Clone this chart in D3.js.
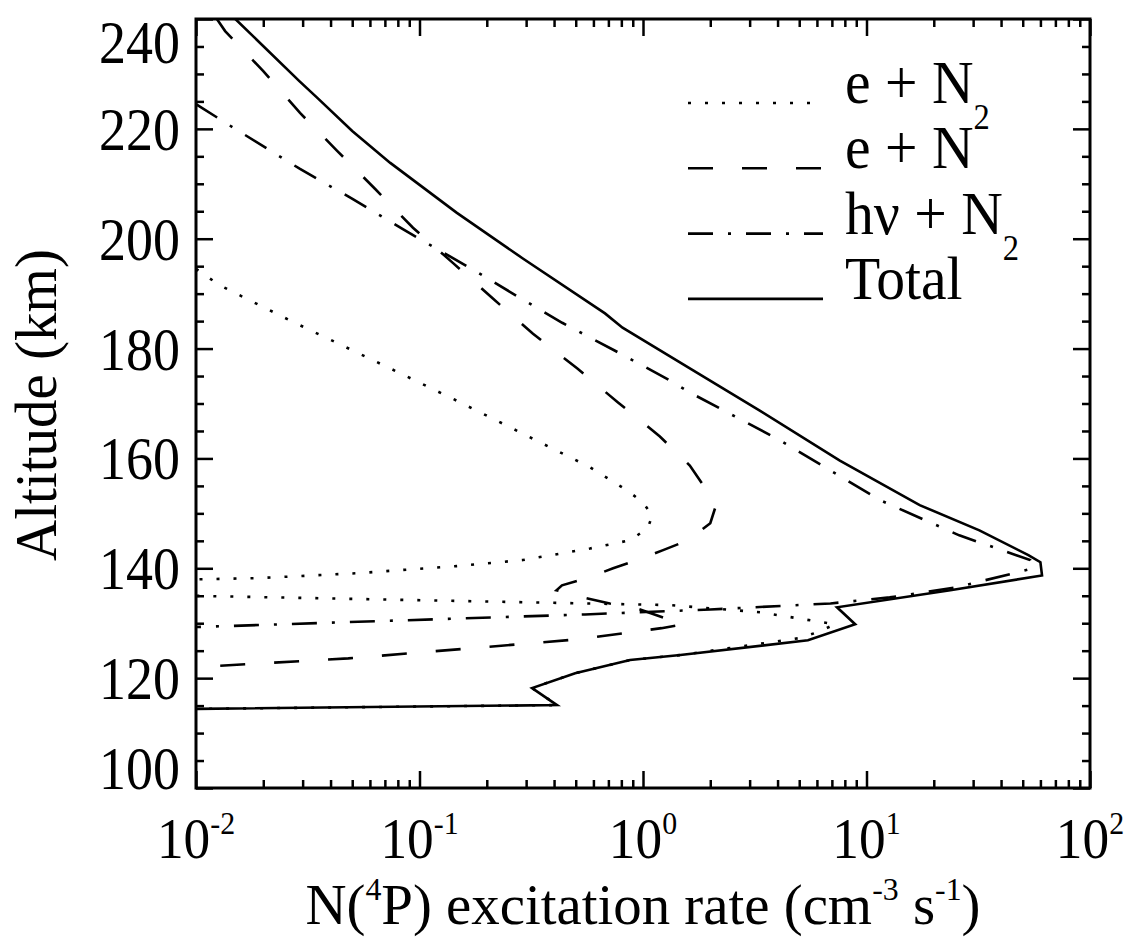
<!DOCTYPE html>
<html>
<head>
<meta charset="utf-8">
<script src="https://cdn.jsdelivr.net/npm/d3@7"></script>
<style>
  body { margin: 0; background: #fff; }
  text { font-family: "Liberation Serif", "Times New Roman", serif; fill: #000; }
</style>
</head>
<body>
<div id="chart"></div>
<script>
// altitude (km) and N(4P) excitation rate (cm-3 s-1)
var totalAlt = [240, 228.7, 225.6, 219.6, 213.8, 204.7, 196.4, 186.4, 183.8, 176.4, 168.7, 159.6, 151.5, 146.9, 142.4, 141.1, 138.7, 136, 132.9, 129.8, 126.9, 124.2, 123.3, 120.9, 118.2, 115.1, 114.4];
var totalVal = [0.015, 0.029, 0.035, 0.050, 0.074, 0.147, 0.29, 0.676, 0.81, 1.62, 3.33, 7.6, 17.3, 32, 53, 60, 61, 23.7, 7.38, 8.9, 5.47, 1.47, 0.875, 0.497, 0.319, 0.412, 0.0101];

var eN2Alt = [194.5, 191.5, 185.1, 176.4, 170.5, 164.5, 158.4, 154.2, 152, 149.6, 147.3, 145.1, 143.6, 141.5, 140.4, 139.1, 138.2, 138, 136.5, 135.0, 133.3, 132, 129.8, 128.4, 127.3, 124.2, 123.3, 120.9, 118.2, 115.1, 114.4];
var eN2Val = [0.01, 0.0128, 0.0264, 0.0738, 0.147, 0.29, 0.579, 0.847, 1.0, 1.10, 1.05, 0.875, 0.579, 0.290, 0.147, 0.0525, 0.0188, 0.0104, 0.0001, 0.0095, 1.32, 3.34, 7.23, 6.07, 5.04, 1.47, 0.875, 0.497, 0.319, 0.412, 0.0101];

var eNAlt = [240, 237.8, 230.5, 222.9, 216, 209.1, 202, 195.6, 189.1, 182.7, 176.4, 170.2, 164, 158.7, 152.7, 150.9, 148.2, 145.1, 143.3, 141.5, 140, 138.2, 136.9, 136, 134.7, 133.6, 132.7, 129.8, 129.1, 127.1, 125.4, 123.6, 122];
var eNVal = [0.0124, 0.0135, 0.020, 0.0292, 0.0428, 0.0632, 0.0935, 0.141, 0.213, 0.322, 0.507, 0.773, 1.19, 1.62, 2.04, 2.10, 2.0, 1.59, 1.23, 0.94, 0.735, 0.561, 0.434, 0.41, 0.54, 0.71, 0.94, 1.51, 1.21, 0.52, 0.165, 0.048, 0.01];

var hvN2Alt = [224.5, 220.2, 212.7, 207.3, 201.5, 194.4, 188.7, 184.7, 179.6, 174.2, 172, 163.3, 152.4, 146, 141.5, 140, 136.5, 134.7, 133.6, 132.5, 131.6, 129.3];
var hvN2Val = [0.01, 0.0147, 0.0292, 0.0499, 0.0861, 0.173, 0.296, 0.435, 0.75, 1.32, 1.62, 4.1, 11.5, 26, 54, 56, 25, 12.7, 6.9, 2.0, 0.55, 0.01];

var xMajor = [0.01, 0.1, 1, 10, 100];
var xExp = ["-2", "-1", "0", "1", "2"];
var yMajor = [100, 120, 140, 160, 180, 200, 220, 240];

var series = [
  {name: "e + N", sub: "2", alt: eN2Alt, val: eN2Val, dash: "3,14"},
  {name: "e + N", sub: "", alt: eNAlt, val: eNVal, dash: "25,29"},
  {name: "h\u03bd + N", sub: "2", alt: hvN2Alt, val: hvN2Val, dash: "25,15,3,15"},
  {name: "Total", sub: "", alt: totalAlt, val: totalVal, dash: null}
];

var W = 1141, H = 938;
var pLeft = 196, pRight = 1090, pTop = 19, pBottom = 788;

var svg = d3.select("#chart").append("svg")
  .attr("width", W).attr("height", H);

var x = d3.scaleLog().domain([0.01, 100]).range([pLeft, pRight]);
var y = d3.scaleLinear().domain([100, 240]).range([pBottom, pTop]);

svg.append("clipPath").attr("id", "plotclip")
  .append("rect").attr("x", pLeft).attr("y", pTop)
  .attr("width", pRight - pLeft).attr("height", pBottom - pTop);

// minor ticks
var xMinor = x.ticks().filter(function(d) { return xMajor.indexOf(d) < 0; });
var yMinor = d3.range(100, 241, 5).filter(function(d) { return d % 20 != 0; });

function ticks(axis, vals, size, tr) {
  var g = svg.append("g").attr("transform", tr)
    .call(axis.tickValues(vals).tickSize(size).tickFormat(""));
  g.select(".domain").remove();
  g.selectAll("line").attr("stroke", "#000").attr("stroke-width", 2.5);
}
ticks(d3.axisBottom(x), xMinor, -8, "translate(0," + pBottom + ")");
ticks(d3.axisBottom(x), xMajor, -17, "translate(0," + pBottom + ")");
ticks(d3.axisTop(x), xMinor, -8, "translate(0," + pTop + ")");
ticks(d3.axisTop(x), xMajor, -17, "translate(0," + pTop + ")");
ticks(d3.axisLeft(y), yMinor, -8, "translate(" + pLeft + ",0)");
ticks(d3.axisLeft(y), yMajor, -17, "translate(" + pLeft + ",0)");
ticks(d3.axisRight(y), yMinor, -8, "translate(" + pRight + ",0)");
ticks(d3.axisRight(y), yMajor, -17, "translate(" + pRight + ",0)");

svg.append("rect").attr("x", pLeft).attr("y", pTop)
  .attr("width", pRight - pLeft).attr("height", pBottom - pTop)
  .attr("fill", "none").attr("stroke", "#000").attr("stroke-width", 3);

// y tick labels (end ones are pulled inside the frame like the original)
svg.selectAll(".ylab").data(yMajor).enter().append("text")
  .attr("transform", function(d) {
    var yy = y(d) + 21;
    if (d == 100) yy = pBottom + 1;
    if (d == 240) yy = pTop + 44;
    return "translate(180," + yy + ") scale(0.87,1)";
  })
  .attr("text-anchor", "end").style("font-size", "62px")
  .text(function(d) { return d; });

// writes a run of [text, isSuper] pieces as separate text nodes, left to right
function richText(parts, x0, y0, size, sx, anchor) {
  var g = svg.append("g");
  var cx = 0;
  parts.forEach(function(p) {
    var fs = p[1] ? size * 0.56 : size;
    var t = g.append("text")
      .attr("x", cx).attr("y", p[1] ? -size * 0.42 : 0)
      .style("font-size", fs + "px")
      .attr("xml:space", "preserve")
      .text(p[0]);
    cx += t.node().getComputedTextLength();
  });
  var off = anchor == "middle" ? -cx / 2 : 0;
  g.attr("transform", "translate(" + (x0 + off * sx) + "," + y0 + ") scale(" + sx + ",1)");
  return g;
}

// x tick labels 10^n
xMajor.forEach(function(d, i) {
  richText([["10", false], [xExp[i], true]], x(d), 858, 58, 0.92, "middle");
});

// axis titles
richText([["N(", false], ["4", true], ["P) excitation rate (cm", false], ["-3", true],
          [" s", false], ["-1", true], [")", false]], 643, 924, 58, 0.98, "middle");

svg.append("text")
  .attr("transform", "translate(56,405) rotate(-90) scale(0.95,1)")
  .attr("text-anchor", "middle").style("font-size", "60px")
  .text("Altitude (km)");

// curves
var line = d3.line()
  .x(function(d) { return x(d[1]); })
  .y(function(d) { return y(d[0]); });

var plot = svg.append("g").attr("clip-path", "url(#plotclip)");
series.forEach(function(s) {
  plot.append("path")
    .datum(d3.zip(s.alt, s.val))
    .attr("d", line)
    .attr("fill", "none").attr("stroke", "#000").attr("stroke-width", 2.6)
    .attr("stroke-dasharray", s.dash);
});

// legend
series.forEach(function(s, i) {
  var ly = 103 + i * 65.3;
  svg.append("line").attr("x1", 688).attr("x2", 823)
    .attr("y1", ly).attr("y2", ly)
    .attr("stroke", "#000").attr("stroke-width", 2.6)
    .attr("stroke-dasharray", s.dash);
  var t = svg.append("text")
    .attr("transform", "translate(845," + ly + ") scale(0.93,1)")
    .style("font-size", "62px")
    .text(s.name);
  if (s.sub) {
    var w = t.node().getComputedTextLength() * 0.93;
    svg.append("text")
      .attr("transform", "translate(" + (845 + w) + "," + (ly + 26) + ") scale(0.93,1)")
      .style("font-size", "35px").text(s.sub);
  }
});
</script>
</body>
</html>
